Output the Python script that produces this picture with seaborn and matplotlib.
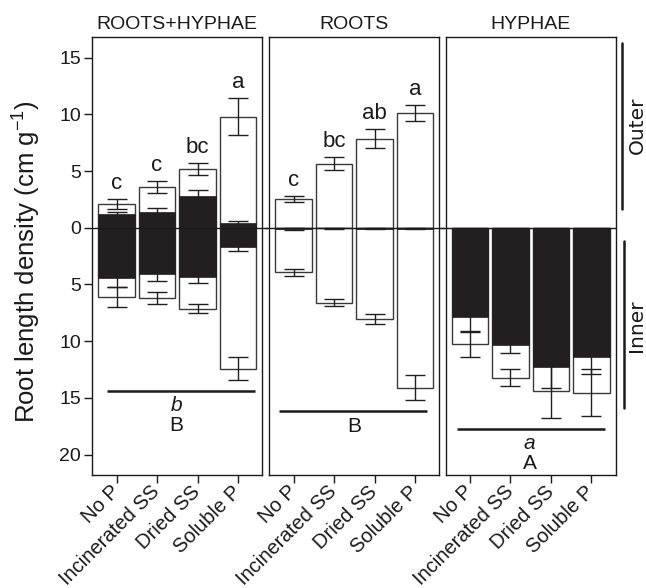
import matplotlib
matplotlib.use("Agg")
import matplotlib.pyplot as plt
import pandas as pd
import seaborn as sns

sns.set_theme(style="ticks")
plt.rcParams["font.family"] = ["Liberation Sans", "DejaVu Sans"]
plt.rcParams["mathtext.default"] = "regular"

treatments = ["No P", "Incinerated SS", "Dried SS", "Soluble P"]
panel_titles = ["ROOTS+HYPHAE", "ROOTS", "HYPHAE"]

# Root length density (cm g-1): total (white) and hyphal/overlay (black) portions,
# outer compartment plotted upward, inner compartment plotted downward.
rh_outer_total = [2.10, 3.60, 5.17, 9.80]
rh_outer_total_se = [0.47, 0.53, 0.55, 1.66]
rh_outer_black = [1.19, 1.39, 2.77, 0.43]
rh_outer_black_se = [0.17, 0.38, 0.53, 0.14]
rh_inner_total = [6.08, 6.17, 7.14, 12.42]
rh_inner_total_se = [0.88, 0.52, 0.40, 1.00]
rh_inner_black = [4.47, 4.09, 4.30, 1.69]
rh_inner_black_se = [0.75, 0.64, 0.55, 0.35]

roots_outer_total = [2.54, 5.67, 7.87, 10.13]
roots_outer_total_se = [0.24, 0.58, 0.83, 0.73]
roots_outer_black = [0.00, 0.00, 0.00, 0.00]
roots_outer_black_se = [0.00, 0.00, 0.00, 0.00]
roots_inner_total = [3.94, 6.61, 8.02, 14.09]
roots_inner_total_se = [0.33, 0.32, 0.44, 1.08]
roots_inner_black = [0.12, 0.05, 0.08, 0.08]
roots_inner_black_se = [0.08, 0.03, 0.05, 0.05]

hy_outer_total = [0.0, 0.0, 0.0, 0.0]
hy_outer_total_se = [0.0, 0.0, 0.0, 0.0]
hy_outer_black = [0.0, 0.0, 0.0, 0.0]
hy_outer_black_se = [0.0, 0.0, 0.0, 0.0]
hy_inner_total = [10.25, 13.22, 14.35, 14.55]
hy_inner_total_se = [1.10, 0.75, 2.46, 2.08]
hy_inner_black = [7.85, 10.31, 12.30, 11.36]
hy_inner_black_se = [1.25, 0.76, 1.84, 1.55]

rh_letters = ["c", "c", "bc", "a"]
roots_letters = ["c", "bc", "ab", "a"]
hy_letters = ["", "", "", ""]

# compartment-level comparison: line height, italic letter, capital letter
group_line_y = [-14.4, -16.2, -17.75]
group_line_x = [(-0.23, 3.41), (-0.35, 3.29), (-0.33, 3.33)]
group_italic = ["b", "", "a"]
group_capital = ["B", "B", "A"]

ytick_values = [15, 10, 5, 0, -5, -10, -15, -20]

panels = [
    (rh_outer_total, rh_outer_total_se, rh_outer_black, rh_outer_black_se,
     rh_inner_total, rh_inner_total_se, rh_inner_black, rh_inner_black_se, rh_letters),
    (roots_outer_total, roots_outer_total_se, roots_outer_black, roots_outer_black_se,
     roots_inner_total, roots_inner_total_se, roots_inner_black, roots_inner_black_se, roots_letters),
    (hy_outer_total, hy_outer_total_se, hy_outer_black, hy_outer_black_se,
     hy_inner_total, hy_inner_total_se, hy_inner_black, hy_inner_black_se, hy_letters),
]

W, H = 646, 588
fig = plt.figure(figsize=(W / 100, H / 100), dpi=100)
lefts = [92.3, 269.3, 445.7]
ax_w, ax_top, ax_bot = 170.0, 37.3, 475.0

BLACK = "#231f20"
EDGE = "#3a3a3a"
INK = "#1a1a1a"
tick_fs = 14.5

axes = []
for i, (ot, ots, ob, obs, it, its, ib, ibs, letters) in enumerate(panels):
    ax = fig.add_axes([lefts[i] / W, 1 - ax_bot / H, ax_w / W, (ax_bot - ax_top) / H])
    axes.append(ax)
    df = pd.DataFrame({
        "treatment": treatments,
        "outer_total": ot, "outer_black": ob,
        "inner_total": [-v for v in it], "inner_black": [-v for v in ib],
    })
    common = dict(data=df, x="treatment", order=treatments, errorbar=None,
                  width=0.9, saturation=1, ax=ax)
    sns.barplot(y="outer_total", color="white", edgecolor=EDGE, linewidth=1.0, **common)
    sns.barplot(y="inner_total", color="white", edgecolor=EDGE, linewidth=1.0, **common)
    sns.barplot(y="outer_black", color=BLACK, edgecolor=BLACK, linewidth=0.5, **common)
    sns.barplot(y="inner_black", color=BLACK, edgecolor=BLACK, linewidth=0.5, **common)

    xs = list(range(len(treatments)))
    eb = dict(fmt="none", elinewidth=1.0, capsize=7, capthick=1.0, zorder=5)
    for vals, errs, sign in [(ob, obs, 1), (ib, ibs, -1), (ot, ots, 1), (it, its, -1)]:
        ys = [sign * v for v in vals]
        if any(errs):
            ax.errorbar(xs, ys, yerr=errs, ecolor=BLACK, **eb)

    for x, lab, v, e in zip(xs, letters, ot, ots):
        if lab:
            ax.text(x, v + e + 0.45, lab, ha="center", va="bottom", fontsize=16, color=INK)

    # zero line running across the panel gaps
    x0 = 0.0 if i == 0 else -0.025
    x1 = 1.0 if i == 2 else 1.025
    ax.plot([x0, x1], [0, 0], color=INK, lw=1.0, transform=ax.get_yaxis_transform(),
            clip_on=False, zorder=6)

    # compartment comparison line and letters
    gx0, gx1 = group_line_x[i]
    gy = group_line_y[i]
    ax.plot([gx0, gx1], [gy, gy], color=INK, lw=1.8, solid_capstyle="butt")
    if group_italic[i]:
        ax.text(1.47, gy - 0.45, group_italic[i], ha="center", va="top",
                fontsize=15, style="italic", color=INK)
        ax.text(1.47, gy - 2.2, group_capital[i], ha="center", va="top",
                fontsize=15, color=INK)
    else:
        ax.text(1.5, gy - 0.45, group_capital[i], ha="center", va="top",
                fontsize=15, color=INK)

    ax.set_xlim(-0.6, 3.6)
    ax.set_ylim(-21.8, 16.8)
    ax.set_xlabel("")
    ax.set_ylabel("")
    ax.set_title(panel_titles[i], fontsize=14, pad=6, color=INK)
    for s in ax.spines.values():
        s.set_visible(True)
        s.set_linewidth(1.0)
        s.set_color(INK)
    ax.set_xticks(xs)
    ax.set_xticklabels(treatments, rotation=45, ha="right", va="center",
                       rotation_mode="anchor", fontsize=tick_fs, color=INK)
    ax.tick_params(axis="x", length=6, width=1.0, color=INK, pad=4)
    if i == 0:
        ax.set_yticks(ytick_values)
        ax.set_yticklabels([str(abs(v)) for v in ytick_values], fontsize=14, color=INK)
        ax.tick_params(axis="y", length=6, width=1.0, color=INK, pad=2)
    else:
        ax.set_yticks([])

# compartment labels beside the right panel
ax3 = axes[2]
tr = ax3.get_yaxis_transform()
ax3.plot([1.039, 1.039], [16.3, 1.7], color=INK, lw=1.8, transform=tr, clip_on=False)
ax3.plot([1.049, 1.049], [-1.2, -15.9], color=INK, lw=1.8, transform=tr, clip_on=False)
ax3.text(1.125, 9.0, "Outer", rotation=90, ha="center", va="center", transform=tr,
         fontsize=14.5, family="DejaVu Sans", color=INK)
ax3.text(1.125, -8.6, "Inner", rotation=90, ha="center", va="center", transform=tr,
         fontsize=14.5, family="DejaVu Sans", color=INK)

fig.text(27 / W, 1 - 262 / H, "Root length density (cm g$^{-1}$)", rotation=90,
         ha="center", va="center", fontsize=18.5, color=INK)

fig.savefig("out.png", dpi=100)
